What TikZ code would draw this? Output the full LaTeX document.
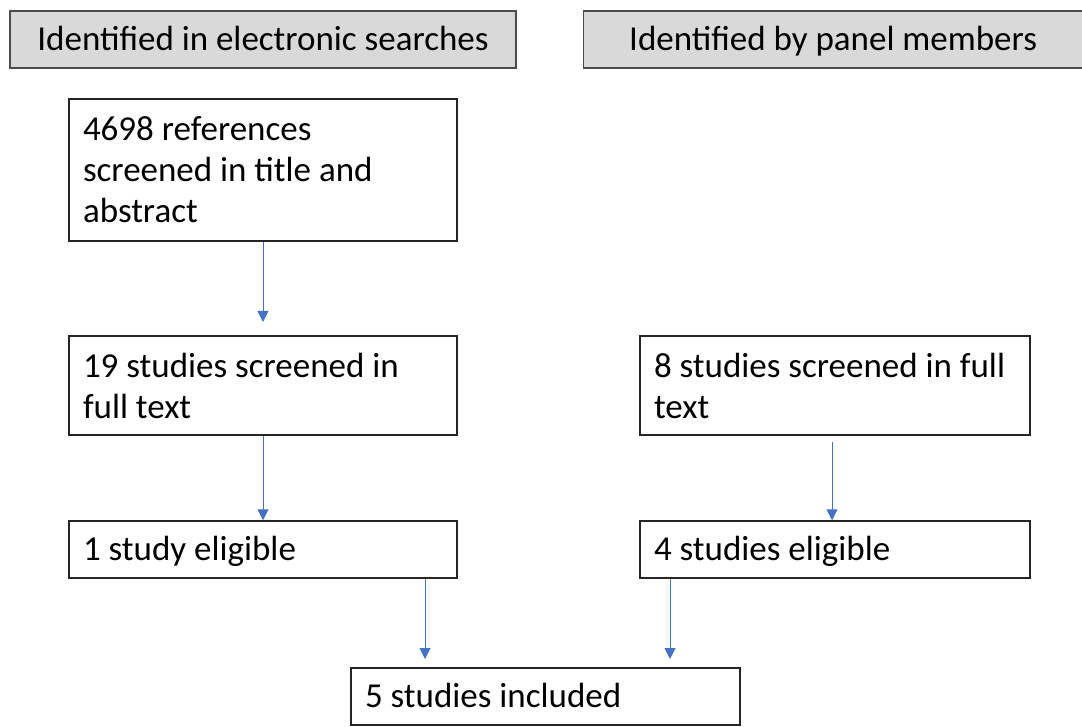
\documentclass[tikz,border=0pt]{standalone}
\usepackage{fontspec}
\setmainfont{Carlito}
\usetikzlibrary{arrows.meta}
\begin{document}
\begin{tikzpicture}[x=1pt,y=1pt,
  header/.style={draw=black!70, line width=1.2pt, fill=black!15, inner sep=0pt, text height=27pt, text depth=5pt, font=\fontsize{35}{41}\selectfont},
  box/.style={draw=black!85, line width=1.5pt, fill=white, inner xsep=14pt, inner ysep=0pt, align=left, font=\fontsize{35}{41}\selectfont,
    execute at begin node={\spaceskip=0pt\xspaceskip=0pt\relax}},
  onebox/.style={box, text height=27pt, text depth=5pt},
  flow/.style={draw={rgb,255:red,68;green,114;blue,196}, line width=1pt, -{Triangle[length=11pt,width=11pt]}}
]
\useasboundingbox (0,0) rectangle (1082,-727);
\node[header, minimum width=506pt, minimum height=57pt] (h1) at (263,-39.5) {Identified in electronic searches};
\node[header, minimum width=510pt, minimum height=57pt, anchor=west] (h2) at (583,-39.5) {\hspace*{-11pt}Identified by panel members};
\node[box, minimum width=388pt, minimum height=142pt, text width=360pt] (a) at (263,-170) {4698 references\\screened in title and\\abstract};
\node[box, minimum width=388pt, minimum height=99pt, text width=360pt] (b) at (263,-385.5) {19 studies screened in\\full text};
\node[onebox, minimum width=388pt, minimum height=57pt, text width=360pt] (c) at (263,-549.5) {1 study eligible};
\node[box, minimum width=390pt, minimum height=99pt, text width=362pt] (d) at (835,-385.5) {8 studies screened in full\\text};
\node[onebox, minimum width=390pt, minimum height=57pt, text width=362pt] (e) at (835,-549.5) {4 studies eligible};
\node[onebox, minimum width=389pt, minimum height=57pt, text width=361pt] (f) at (545.5,-696.5) {5 studies included};
\coordinate (ab) at (263,-322);
\draw[flow] (a.south) -- (ab);
\draw[flow] (b.south) -- (c.north);
\draw[flow] ([xshift=-3pt,yshift=-6pt]d.south) -- ([xshift=-3pt]e.north);
\coordinate (cf) at (425,-659);
\coordinate (ef) at (670,-659);
\draw[flow] (c.south -| cf) -- (cf);
\draw[flow] (e.south -| ef) -- (ef);
\end{tikzpicture}
\end{document}
